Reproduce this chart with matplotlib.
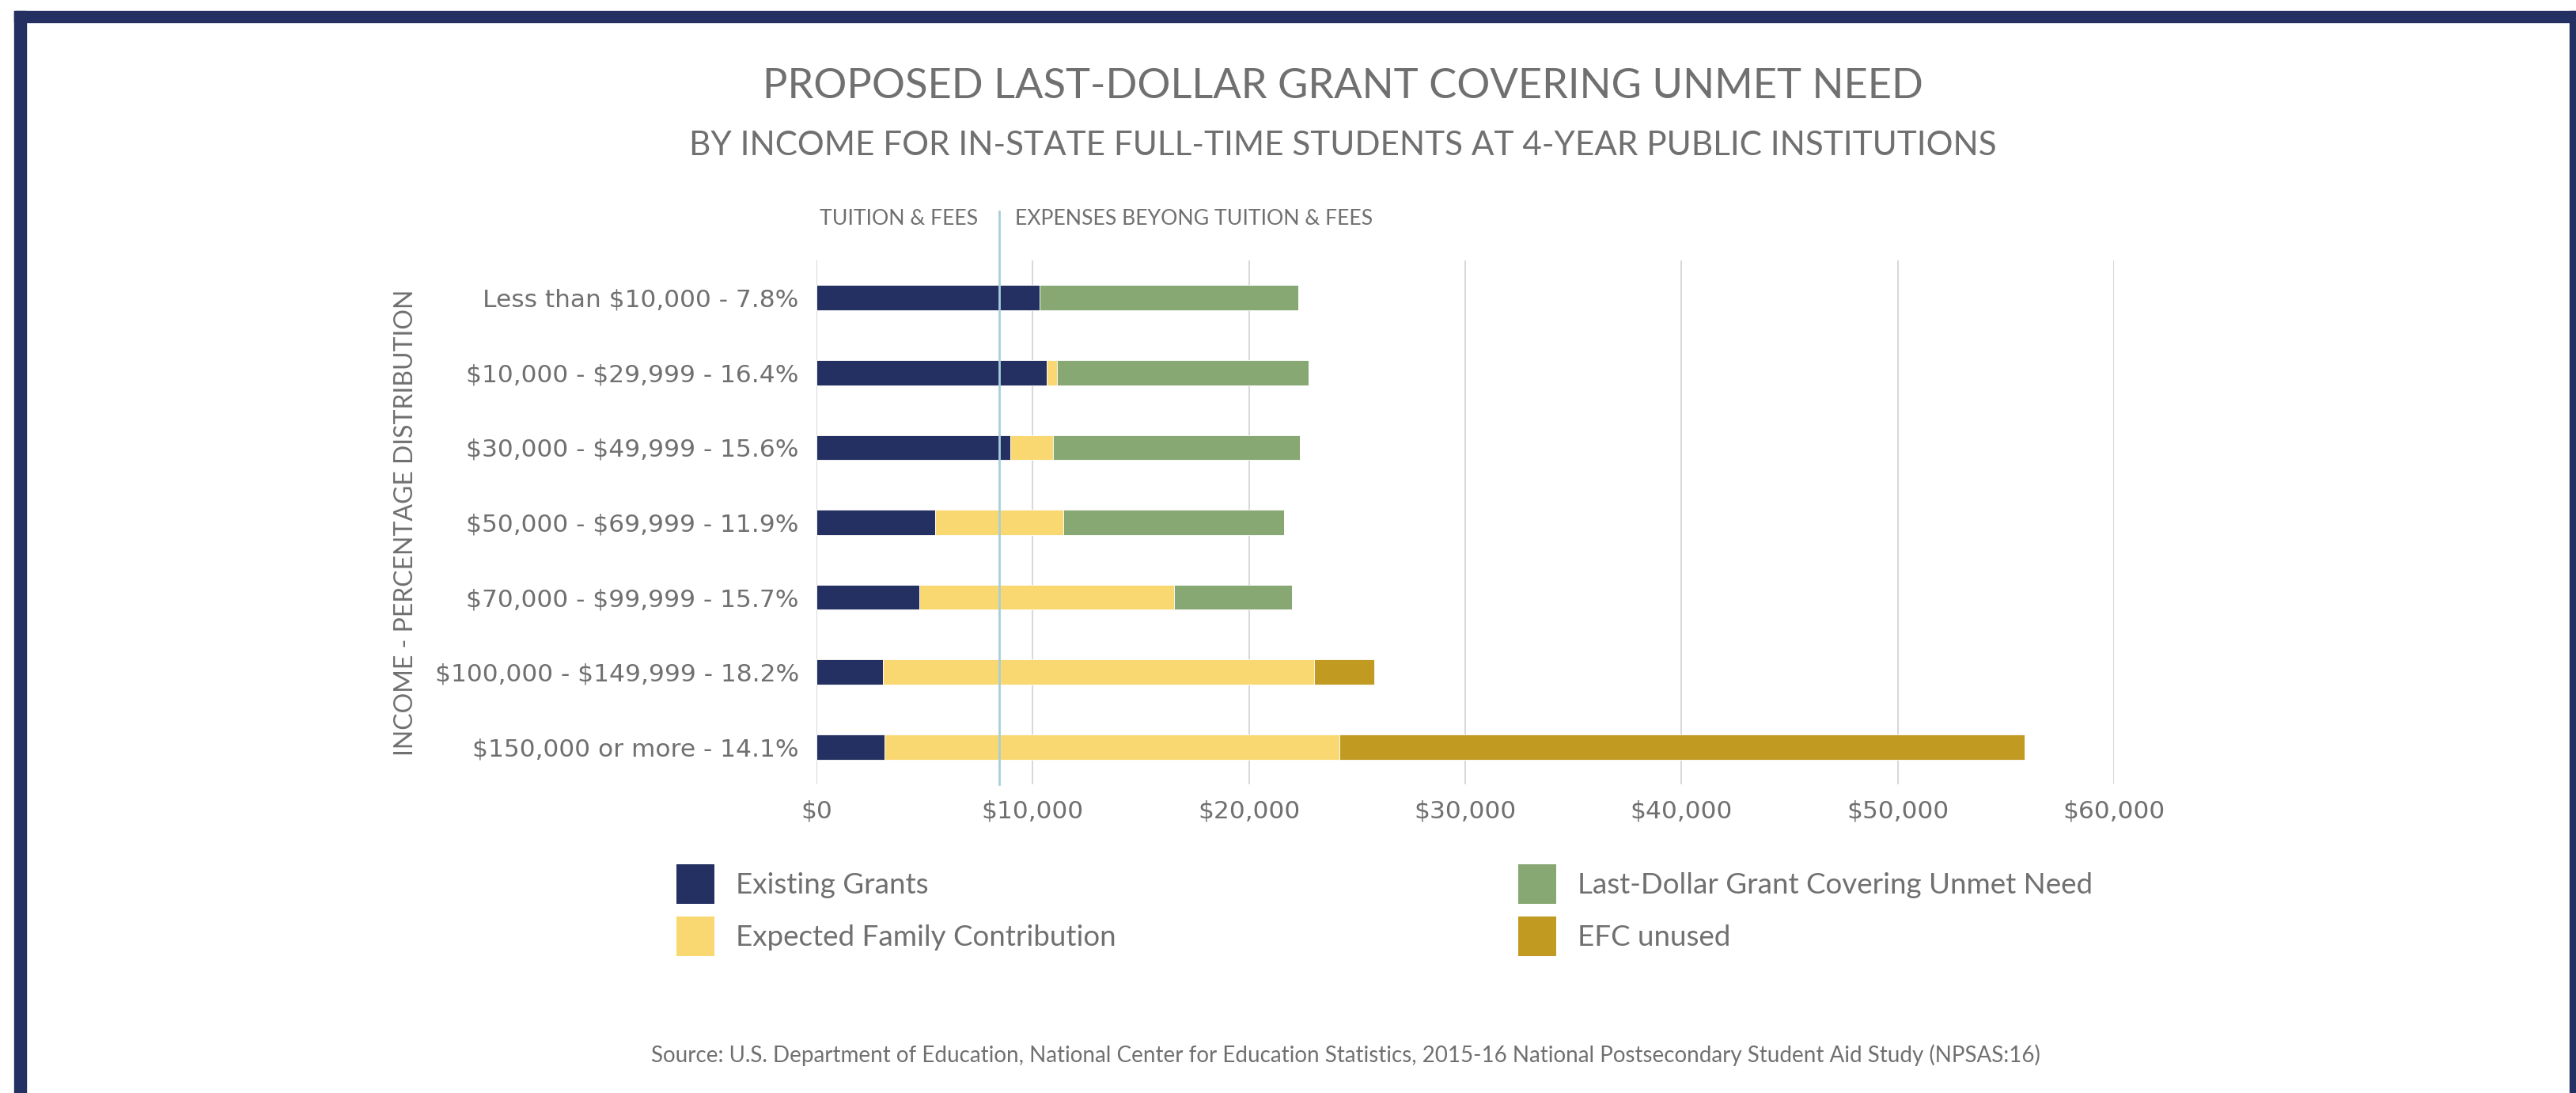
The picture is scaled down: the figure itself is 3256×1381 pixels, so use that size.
import matplotlib
matplotlib.use("Agg")
import matplotlib.pyplot as plt
import numpy as np
from matplotlib.patches import Rectangle, Patch
from matplotlib.ticker import FuncFormatter

plt.rcParams["text.parse_math"] = False

# ── data ────────────────────────────────────────────────────────
CATEGORIES = [
    "Less than $10,000 - 7.8%",
    "$10,000 - $29,999 - 16.4%",
    "$30,000 - $49,999 - 15.6%",
    "$50,000 - $69,999 - 11.9%",
    "$70,000 - $99,999 - 15.7%",
    "$100,000 - $149,999 - 18.2%",
    "$150,000 or more - 14.1%",
]
existing_grants = [10330, 10640, 8950, 5480, 4750, 3060, 3130]
expected_family = [0, 500, 1990, 5950, 11800, 19950, 21050]
last_dollar     = [11950, 11610, 11425, 10190, 5420, 0, 0]
efc_unused      = [0, 0, 0, 0, 0, 2775, 31670]
TUITION_FEES = 8450
X_TICKS = [0, 10000, 20000, 30000, 40000, 50000, 60000]

SERIES = [
    ("Existing Grants", existing_grants, "#243061"),
    ("Expected Family Contribution", expected_family, "#F9D872"),
    ("Last-Dollar Grant Covering Unmet Need", last_dollar, "#88A873"),
    ("EFC unused", efc_unused, "#C19A22"),
]

GRAY = "#707070"
NAVY = "#243061"
W, H = 3256, 1381
LATO = dict(family="Lato", weight="normal")


def fx(px):
    return px / W


def fy(py):
    return 1 - py / H


fig = plt.figure(figsize=(W / 100, H / 100), dpi=100)
fig.patch.set_facecolor("white")

# frame round the chart (cut off at right and bottom)
for x0, y0, x1, y1 in [(18, 14, W, 28), (18, 14, 33, H), (3248, 14, W, H)]:
    fig.patches.append(Rectangle((fx(x0), fy(y1)), fx(x1) - fx(x0), fy(y0) - fy(y1),
                                 transform=fig.transFigure, color=NAVY, zorder=0))

ax = fig.add_axes([fx(1032), fy(991), fx(2672) - fx(1032), fy(329) - fy(991)])

y = np.arange(len(CATEGORIES))
left = np.zeros(len(CATEGORIES))
for name, vals, color in SERIES:
    vals = np.array(vals, dtype=float)
    ax.barh(y, vals, left=left, height=0.335, color=color, label=name,
            edgecolor="white", linewidth=0.6, zorder=3)
    left += vals

ax.set_xlim(0, 60000)
ax.set_ylim(len(CATEGORIES) - 0.5, -0.5)
ax.set_xticks(X_TICKS)
ax.xaxis.set_major_formatter(FuncFormatter(lambda v, _: f"${v:,.0f}"))
ax.set_yticks(y)
ax.set_yticklabels(CATEGORIES)
ax.tick_params(length=0, labelsize=22.5, colors=GRAY)
ax.tick_params(axis="x", pad=14)
ax.tick_params(axis="y", pad=16)
ax.grid(axis="x", color="#D4D4D4", linewidth=1.3, zorder=0)
for s in ax.spines.values():
    s.set_visible(False)

ax.axvline(TUITION_FEES, ymin=0, ymax=1.094, color="#A6CFD8", linewidth=2,
           clip_on=False, zorder=4)

fig.text(fx(1236), fy(276), "TUITION & FEES", ha="right", va="center",
         fontsize=19.2, color=GRAY, **LATO)
fig.text(fx(1283), fy(276), "EXPENSES BEYONG TUITION & FEES", ha="left", va="center",
         fontsize=19.2, color=GRAY, **LATO)

fig.text(fx(513), fy(660), "INCOME - PERCENTAGE DISTRIBUTION", rotation=90,
         ha="center", va="center", fontsize=23, color=GRAY, **LATO)

fig.text(fx(1697), fy(110), "PROPOSED LAST-DOLLAR GRANT COVERING UNMET NEED",
         ha="center", va="center", fontsize=37.8, color=GRAY, **LATO)
fig.text(fx(1697), fy(184),
         "BY INCOME FOR IN-STATE FULL-TIME STUDENTS AT 4-YEAR PUBLIC INSTITUTIONS",
         ha="center", va="center", fontsize=30.4, color=GRAY, **LATO)

handles = [Patch(facecolor=c, edgecolor="none") for _, _, c in SERIES]
labels = [n for n, _, _ in SERIES]
leg = fig.legend(handles, labels, ncol=2, loc="upper left",
                 bbox_to_anchor=(fx(855), fy(1092)), frameon=False,
                 handlelength=1.3, handleheight=1.71,
                 handletextpad=0.75, columnspacing=13.8, labelspacing=0.43,
                 borderpad=0, borderaxespad=0, prop=dict(size=26.5, **LATO))
for t in leg.get_texts():
    t.set_color(GRAY)

fig.text(fx(1701), fy(1333),
         "Source: U.S. Department of Education, National Center for Education Statistics, "
         "2015-16 National Postsecondary Student Aid Study (NPSAS:16)",
         ha="center", va="center", fontsize=20, color=GRAY, **LATO)

fig.savefig("out.png", dpi=100, facecolor="white")
